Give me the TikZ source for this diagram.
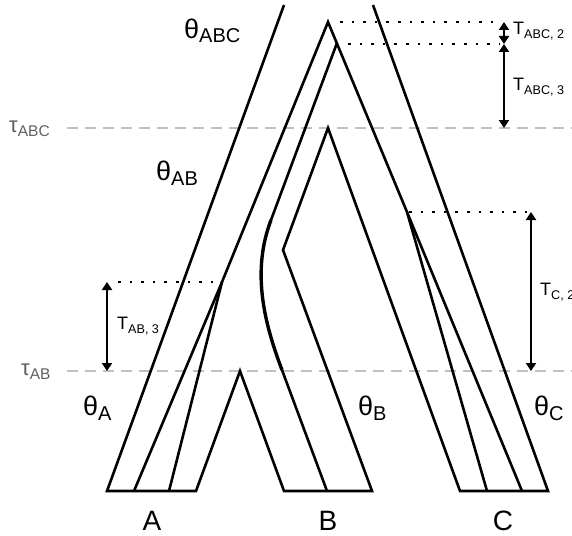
\documentclass[tikz,border=0pt]{standalone}
\usepackage{fontspec}
\setmainfont{Liberation Sans}
\usetikzlibrary{arrows.meta}
\definecolor{taugray}{RGB}{96,96,96}
\definecolor{dashgray}{RGB}{192,192,192}
\newcommand\mylab[5]{{\fontsize{#1}{#1}\selectfont #2}{\fontsize{#3}{#3}\selectfont\raisebox{-#5pt}{#4}}}
\begin{document}
\begin{tikzpicture}[x=1pt,y=-1pt,
  tube/.style={line width=2.6pt, line join=miter},
  lineage/.style={line width=2.6pt, line join=miter},
  bentlineage/.style={line width=3.4pt},
  tauline/.style={dashgray, line width=2pt, dash pattern=on 11pt off 7pt},
  dotline/.style={line width=2.6pt, dash pattern=on 2.6pt off 9pt},
  timearrow/.style={line width=2.8pt, {Triangle[width=10pt,length=8pt]}-{Triangle[width=10pt,length=8pt]}},
  lab/.style={inner sep=0pt, anchor=base west},
  taxon/.style={inner sep=0pt, anchor=base, font=\fontsize{28}{28}\selectfont}]
\clip (0,0) rectangle (572,535);
% key points
\coordinate (Ltop) at (284,5);
\coordinate (Rtop) at (373,5);
\coordinate (A0) at (107,491);
\coordinate (A1) at (134,491);
\coordinate (A2) at (169,491);
\coordinate (A3) at (196,491);
\coordinate (ABapex) at (240,371);
\coordinate (B0) at (284,491);
\coordinate (B1) at (327,491);
\coordinate (B2) at (372,491);
\coordinate (Bbend) at (283,250);
\coordinate (BCapex) at (328,128);
\coordinate (C0) at (460,491);
\coordinate (C1) at (487,491);
\coordinate (C2) at (522,491);
\coordinate (C3) at (548,491);
\coordinate (cA) at (222,282);
\coordinate (cTop) at (328,22);
\coordinate (cSecond) at (337,43);
\coordinate (cC) at (407,212);
\coordinate (g2a) at (271,220);
\coordinate (g2b) at (282,370);
% tau lines
\draw[tauline] (67,128) -- (572,128);
\draw[tauline] (67,371) -- (572,371);
% species tree outline
\draw[tube] (Ltop) -- (A0) -- (A3) -- (ABapex) -- (B0) -- (B2) -- (Bbend) -- (BCapex) -- (C0) -- (C3) -- (Rtop);
% gene lineages
\draw[lineage] (A1) -- (cA) -- (cTop) -- (cC) -- (C1);
\draw[lineage] (A2) -- (cA);
\draw[lineage] (cC) -- (C2);
\draw[lineage] (cSecond) -- (g2a);
\draw[bentlineage] (g2a) .. controls (252,270) and (263,320) .. (g2b);
\draw[lineage] (g2b) -- (B1);
% dotted guides
\coordinate (d1s) at (340,22);  \coordinate (d1e) at (500,22);
\coordinate (d2s) at (348,44);  \coordinate (d2e) at (500,44);
\coordinate (d3s) at (409,212); \coordinate (d3e) at (527,212);
\coordinate (d4s) at (118,282); \coordinate (d4e) at (214,282);
\draw[dotline] (d1s) -- (d1e);
\draw[dotline] (d2s) -- (d2e);
\draw[dotline] (d3s) -- (d3e);
\draw[dotline] (d4s) -- (d4e);
% time arrows
\coordinate (t1a) at (504,22);  \coordinate (t1b) at (504,44);
\coordinate (t2a) at (504,44);  \coordinate (t2b) at (504,128);
\coordinate (t3a) at (107,282); \coordinate (t3b) at (107,371);
\coordinate (t4a) at (531,212); \coordinate (t4b) at (531,371);
\draw[timearrow] (t1a) -- (t1b);
\draw[timearrow] (t2a) -- (t2b);
\draw[timearrow] (t3a) -- (t3b);
\draw[timearrow] (t4a) -- (t4b);
% labels
\node[lab] (lTabc2) at (513,35) {\mylab{18}{T}{12.6}{ABC, 2}{4}};
\node[lab] (lTabc3) at (513,90) {\mylab{18}{T}{12.6}{ABC, 3}{4}};
\node[lab] (lTab3) at (117,329) {\mylab{18}{T}{12.6}{AB, 3}{4}};
\node[lab] (lTc2) at (540,295) {\mylab{18}{T}{12.6}{C, 2}{4}};
\node[lab] (thABC) at (184,38) {\mylab{27}{θ}{20}{ABC}{5}};
\node[lab] (thAB) at (156,180) {\mylab{27}{θ}{20}{AB}{5}};
\node[lab] (thA) at (83,415) {\mylab{27}{θ}{20}{A}{5}};
\node[lab] (thB) at (358,415) {\mylab{27}{θ}{20}{B}{5}};
\node[lab] (thC) at (534,415) {\mylab{27}{θ}{20}{C}{5}};
\node[lab, text=taugray] (tauABC) at (9,132) {\mylab{22}{τ}{15.5}{ABC}{4}};
\node[lab, text=taugray] (tauAB) at (21,375) {\mylab{22}{τ}{15.5}{AB}{4}};
\node[taxon] (tA) at (152,530) {A};
\node[taxon] (tB) at (328,530) {B};
\node[taxon] (tC) at (503,530) {C};
\end{tikzpicture}
\end{document}
